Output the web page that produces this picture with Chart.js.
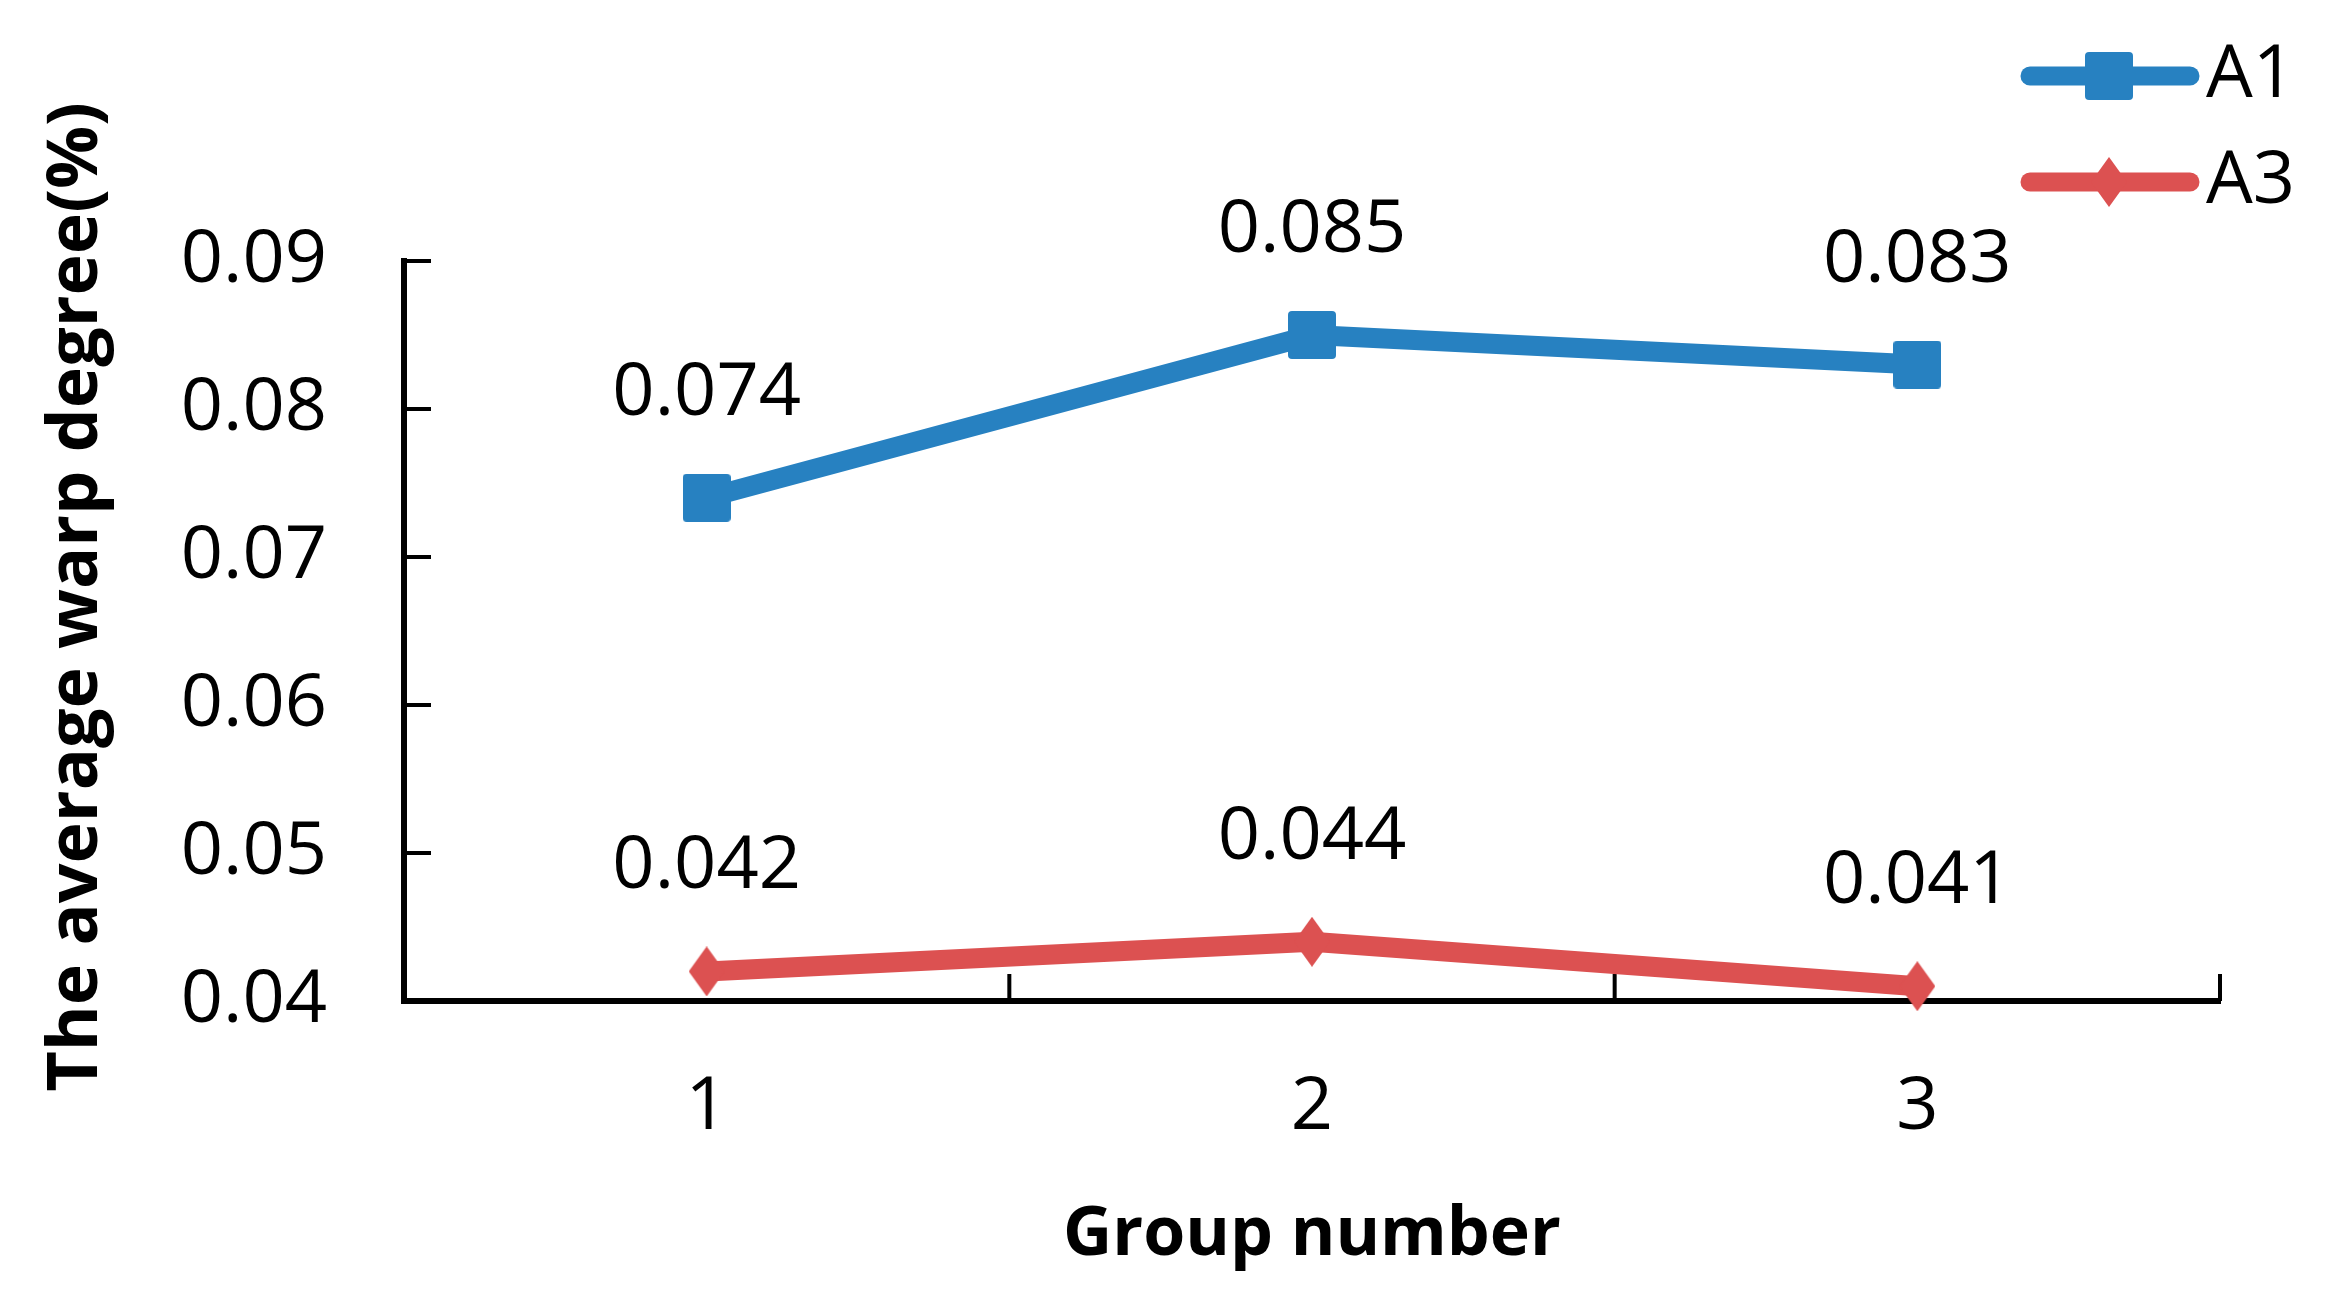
<!DOCTYPE html>
<html>
<head>
<meta charset="utf-8">
<script src="https://cdn.jsdelivr.net/npm/chart.js@4.4.1/dist/chart.umd.min.js"></script>
<style>
  html, body { margin: 0; padding: 0; background: #fff; }
  #chart { display: block; }
</style>
</head>
<body>
<canvas id="chart" width="2328" height="1312"></canvas>
<script>
// data
const groups = ["1", "2", "3"];
const a1Values = [0.074, 0.085, 0.083];
const a3Values = [0.042, 0.044, 0.041];
const seriesNames = ["A1", "A3"];
const yMin = 0.04;
const yMax = 0.09;
const yStep = 0.01;

const BLUE = "#2781c1";
const RED = "#dc5151";
const FONT = "'Open Sans', sans-serif";

// marker shapes as small canvases (square with soft corners, tall diamond)
function squareMarker(size, color) {
  const c = document.createElement("canvas");
  c.width = size; c.height = size;
  const g = c.getContext("2d");
  g.fillStyle = color;
  g.beginPath();
  g.roundRect(0, 0, size, size, 4);
  g.fill();
  return c;
}

function diamondMarker(w, h, color) {
  const c = document.createElement("canvas");
  c.width = w; c.height = h;
  const g = c.getContext("2d");
  g.fillStyle = color;
  g.beginPath();
  g.moveTo(w / 2, 0);
  g.lineTo(w, h / 2);
  g.lineTo(w / 2, h);
  g.lineTo(0, h / 2);
  g.closePath();
  g.fill();
  return c;
}

const squareImg = squareMarker(48, BLUE);
const diamondImg = diamondMarker(36, 50, RED);

const decorations = {
  id: "decorations",
  beforeDatasetsDraw(chart) {
    // tick marks point into the plot
    const { ctx, chartArea, scales: { x, y } } = chart;
    ctx.save();
    ctx.strokeStyle = "#000";
    ctx.lineWidth = 4;
    ctx.beginPath();
    y.ticks.forEach(t => {
      if (t.value <= y.min + 1e-9) return;
      const py = y.getPixelForValue(t.value);
      ctx.moveTo(chartArea.left, py);
      ctx.lineTo(chartArea.left + 27, py);
    });
    const step = x.getPixelForValue(1) - x.getPixelForValue(0);
    for (let i = 0; i <= groups.length; i++) {
      const px = x.getPixelForValue(0) - step / 2 + i * step;
      ctx.moveTo(px, chartArea.bottom);
      ctx.lineTo(px, chartArea.bottom - 27);
    }
    ctx.stroke();
    ctx.restore();
  },
  afterDatasetsDraw(chart) {
    // value labels above each point
    const { ctx } = chart;
    ctx.save();
    ctx.fillStyle = "#000";
    ctx.font = "74px " + FONT;
    ctx.textAlign = "center";
    ctx.textBaseline = "middle";
    chart.data.datasets.forEach((ds, i) => {
      chart.getDatasetMeta(i).data.forEach((pt, j) => {
        ctx.fillText(ds.data[j].toFixed(3), pt.x, pt.y - 104);
      });
    });
    ctx.restore();
  },
  afterDraw(chart) {
    const { ctx } = chart;
    ctx.save();

    // y axis title
    ctx.fillStyle = "#000";
    ctx.font = "bold 70px " + FONT;
    ctx.textAlign = "center";
    ctx.textBaseline = "middle";
    ctx.translate(77, 597);
    ctx.rotate(-Math.PI / 2);
    ctx.fillText("The average warp degree(%)", 0, 0);
    ctx.setTransform(1, 0, 0, 1, 0, 0);

    // legend, top right
    const rows = [76, 182];
    chart.data.datasets.forEach((ds, i) => {
      const ly = rows[i];
      ctx.strokeStyle = ds.borderColor;
      ctx.lineWidth = 19;
      ctx.lineCap = "round";
      ctx.beginPath();
      ctx.moveTo(2030, ly);
      ctx.lineTo(2190, ly);
      ctx.stroke();
      const img = ds.pointStyle;
      ctx.drawImage(img, 2109 - img.width / 2, ly - img.height / 2);
      ctx.fillStyle = "#000";
      ctx.font = "74px " + FONT;
      ctx.textAlign = "left";
      ctx.textBaseline = "middle";
      ctx.fillText(ds.label, 2206, ly);
    });
    ctx.restore();
  }
};

new Chart(document.getElementById("chart"), {
  type: "line",
  data: {
    labels: groups,
    datasets: [
      {
        label: seriesNames[0],
        data: a1Values,
        borderColor: BLUE,
        backgroundColor: BLUE,
        borderWidth: 20,
        borderJoinStyle: "round",
        pointStyle: squareImg,
        clip: false
      },
      {
        label: seriesNames[1],
        data: a3Values,
        borderColor: RED,
        backgroundColor: RED,
        borderWidth: 20,
        borderJoinStyle: "round",
        pointStyle: diamondImg,
        clip: false
      }
    ]
  },
  options: {
    responsive: false,
    animation: false,
    devicePixelRatio: 1,
    layout: { padding: { top: 261, right: 108, left: 0, bottom: 0 } },
    plugins: {
      legend: { display: false },
      tooltip: { enabled: false }
    },
    scales: {
      x: {
        type: "category",
        offset: true,
        grid: { display: false, drawTicks: false, offset: true },
        border: { display: true, color: "#000", width: 6 },
        ticks: { color: "#000", font: { family: FONT, size: 74 }, padding: 63 },
        title: {
          display: true,
          text: "Group number",
          color: "#000",
          font: { family: FONT, size: 68, weight: "bold" },
          padding: { top: 0, bottom: 36 }
        },
        afterFit: s => { s.height = 311; }
      },
      y: {
        min: yMin,
        max: yMax,
        grid: { display: false, drawTicks: false },
        border: { display: true, color: "#000", width: 6 },
        ticks: {
          stepSize: yStep,
          color: "#000",
          font: { family: FONT, size: 74 },
          padding: 77,
          callback: v => v.toFixed(2)
        },
        afterFit: s => { s.width = 404; }
      }
    }
  },
  plugins: [decorations]
});
</script>
</body>
</html>
